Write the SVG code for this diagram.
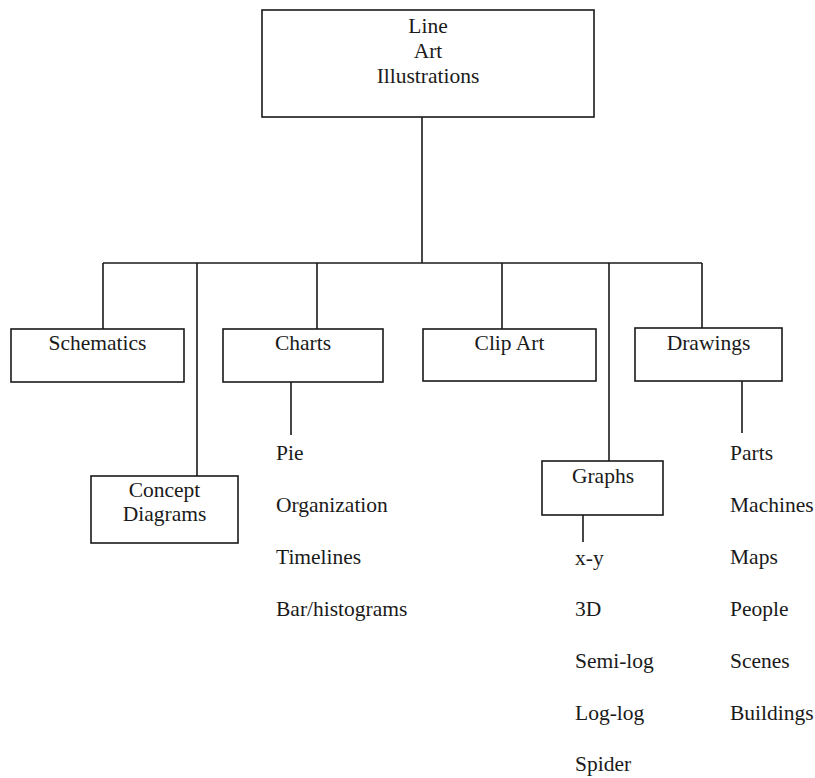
<svg xmlns="http://www.w3.org/2000/svg" width="815" height="778" viewBox="0 0 815 778">
  <style>
    .box { fill: #fff; stroke: #1a1a1a; stroke-width: 1.6; }
    .wire { fill: none; stroke: #1a1a1a; stroke-width: 1.6; }
    text { font-family: "Liberation Serif", "Times New Roman", serif; font-size: 21.5px; fill: #1a1a1a; }
    .c { text-anchor: middle; }
  </style>
  <rect width="815" height="778" fill="#fff"/>

  <!-- connectors -->
  <g id="connectors">
    <path class="wire" d="M422 117 V263"/>
    <path class="wire" d="M103 263 H702"/>
    <path class="wire" d="M103 263 V329"/>
    <path class="wire" d="M197 263 V476"/>
    <path class="wire" d="M317 263 V329"/>
    <path class="wire" d="M502 263 V329"/>
    <path class="wire" d="M609 263 V461"/>
    <path class="wire" d="M702 263 V328"/>
    <path class="wire" d="M291 382 V435"/>
    <path class="wire" d="M742 381 V433"/>
    <path class="wire" d="M583 515 V542"/>
  </g>

  <g id="root">
    <rect class="box" x="262" y="10" width="332" height="107"/>
    <text class="c" x="428" y="33">Line</text>
    <text class="c" x="428" y="58">Art</text>
    <text class="c" x="428" y="83">Illustrations</text>
  </g>

  <g id="schematics">
    <rect class="box" x="11" y="329" width="173" height="53"/>
    <text class="c" x="97.5" y="350">Schematics</text>
  </g>

  <g id="charts">
    <rect class="box" x="223" y="329" width="160" height="53"/>
    <text class="c" x="303" y="350">Charts</text>
  </g>

  <g id="clip-art">
    <rect class="box" x="423" y="329" width="173" height="52"/>
    <text class="c" x="509.5" y="350">Clip Art</text>
  </g>

  <g id="drawings">
    <rect class="box" x="635" y="328" width="147" height="53"/>
    <text class="c" x="708.5" y="350">Drawings</text>
  </g>

  <g id="concept-diagrams">
    <rect class="box" x="91" y="476" width="147" height="67"/>
    <text class="c" x="164.5" y="497">Concept</text>
    <text class="c" x="164.5" y="521">Diagrams</text>
  </g>

  <g id="graphs">
    <rect class="box" x="542" y="461" width="121" height="54"/>
    <text class="c" x="603" y="483">Graphs</text>
  </g>

  <g id="chart-types">
    <text x="276" y="460">Pie</text>
    <text x="276" y="512">Organization</text>
    <text x="276" y="564">Timelines</text>
    <text x="276" y="616">Bar/histograms</text>
  </g>

  <g id="graph-types">
    <text x="575" y="565">x-y</text>
    <text x="575" y="616">3D</text>
    <text x="575" y="668">Semi-log</text>
    <text x="575" y="720">Log-log</text>
    <text x="575" y="771">Spider</text>
  </g>

  <g id="drawing-types">
    <text x="730" y="460">Parts</text>
    <text x="730" y="512">Machines</text>
    <text x="730" y="564">Maps</text>
    <text x="730" y="616">People</text>
    <text x="730" y="668">Scenes</text>
    <text x="730" y="720">Buildings</text>
  </g>
</svg>
